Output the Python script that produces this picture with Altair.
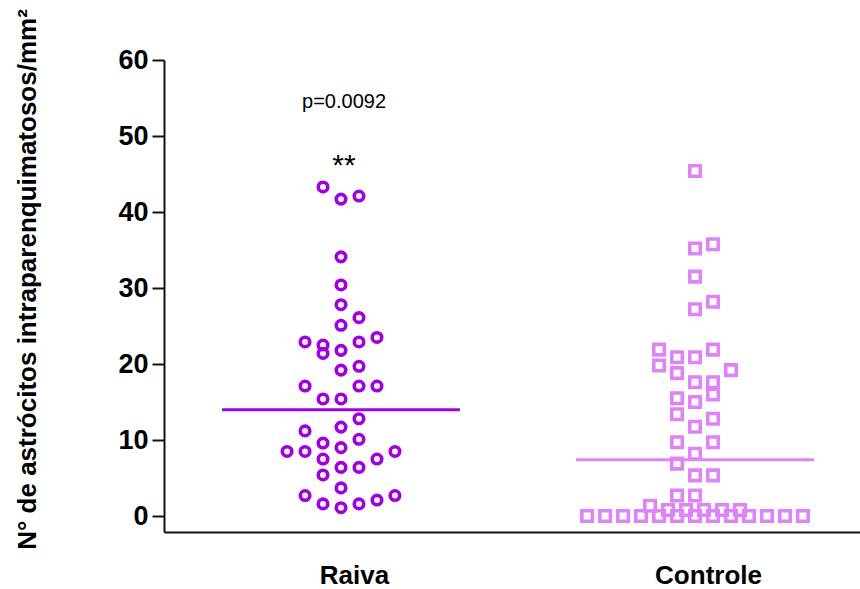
import altair as alt
import pandas as pd

groups = ["Raiva", "Controle"]

raiva_values = [43.3, 41.7, 42.1, 34.1, 30.4, 27.8, 26.1, 25.1, 22.9, 22.5,
                21.4, 21.8, 22.9, 23.5, 19.2, 19.7, 17.1, 17.1, 17.1, 15.4,
                15.4, 12.8, 11.2, 11.7, 9.6, 10.1, 8.5, 8.5, 9.0, 8.5,
                7.5, 7.5, 6.4, 6.4, 5.4, 3.7, 2.7, 2.7, 1.6, 1.1,
                1.6, 2.1]
raiva_cols = [-1, 0, 1, 0, 0, 0, 1, 0, -2, -1,
              -1, 0, 1, 2, 0, 1, -2, 1, 2, -1,
              0, 1, -2, 0, -1, 1, -3, -2, 0, 3,
              -1, 2, 0, 1, -1, 0, -2, 3, -1, 0,
              1, 2]

controle_values = [45.4, 35.2, 35.75, 31.5, 27.2, 28.2, 21.9, 20.9, 20.9, 21.9,
                   19.8, 19.2, 18.8, 17.6, 17.6, 16.0, 15.5, 15.0, 13.4, 12.8,
                   11.75, 9.7, 9.7, 8.2, 6.9, 5.35, 5.35, 2.7, 2.7, 1.36,
                   0.8, 0.8, 0.8, 0.8, 0.8,
                   0, 0, 0, 0, 0, 0, 0, 0, 0, 0, 0, 0, 0]
controle_cols = [0, 0, 1, 0, 0, 1, -2, -1, 0, 1,
                 -2, 2, -1, 0, 1, 1, -1, 0, -1, 1,
                 0, -1, 1, 0, -1, 0, 1, -1, 0, -2.5,
                 -1.5, -0.5, 0.5, 1.5, 2.5,
                 -6, -5, -4, -3, -2, -1, 0, 1, 2, 3, 4, 5, 6]

line_values = [14.0, 7.4]
y_ticks = [0, 10, 20, 30, 40, 50, 60]
annot_texts = ["p=0.0092", "**"]
annot_y = [54.5, 46.0]
annot_sizes = [20, 30]

colors = ["#A100DE", "#DE84F6"]
FONT = "Liberation Sans"

pts = pd.DataFrame({
    "grupo": ["Raiva"] * len(raiva_values) + ["Controle"] * len(controle_values),
    "gi": [1] * len(raiva_values) + [2] * len(controle_values),
    "col": raiva_cols + controle_cols,
    "valor": raiva_values + controle_values,
})
lines = pd.DataFrame({"grupo": groups, "gi": [1, 2], "valor": line_values})
annot = pd.DataFrame({"gi": [1, 1], "valor": annot_y, "txt": annot_texts, "fs": annot_sizes})

xscale = alt.Scale(domain=[0.5, 2.466], nice=False, zero=False)
yscale = alt.Scale(domain=[-2.1, 60], nice=False, zero=False)
cscale = alt.Scale(domain=groups, range=colors)

x_axis = alt.Axis(values=[1, 2], labelExpr="datum.value == 1 ? 'Raiva' : 'Controle'",
                  ticks=False, grid=False, domainColor="#111111", domainWidth=2,
                  labelFont=FONT, labelFontSize=26, labelFontWeight="bold",
                  labelColor="black", labelPadding=30, labelOffset=13, title=None)
y_axis = alt.Axis(values=y_ticks, grid=False, tickSize=12, tickWidth=2, tickColor="#111111",
                  domainColor="#111111", domainWidth=2,
                  labelFont=FONT, labelFontSize=27, labelFontWeight="bold", labelColor="black",
                  labelPadding=4,
                  title="N° de astrócitos intraparenquimatosos/mm²",
                  titleFont=FONT, titleFontSize=26, titleFontWeight="bold", titleColor="black",
                  titleAngle=270, titleX=-137, titleY=219, titleAlign="center",
                  titleBaseline="middle")

rule = alt.Chart(lines).transform_calculate(
    x1="datum.gi - 0.336", x2="datum.gi + 0.336"
).mark_rule(strokeWidth=3).encode(
    x=alt.X("x1:Q", scale=xscale, axis=x_axis),
    x2="x2:Q",
    y=alt.Y("valor:Q", scale=yscale, axis=y_axis),
    color=alt.Color("grupo:N", scale=cscale, legend=None),
)

points = alt.Chart(pts).transform_calculate(
    xp="datum.gi + datum.col * 0.0508"
).mark_point(filled=False, strokeWidth=3.6, opacity=1).encode(
    x=alt.X("xp:Q", scale=xscale),
    y=alt.Y("valor:Q", scale=yscale),
    color=alt.Color("grupo:N", scale=cscale, legend=None),
    shape=alt.Shape("grupo:N", scale=alt.Scale(domain=groups, range=["circle", "square"]), legend=None),
    size=alt.Size("grupo:N", scale=alt.Scale(domain=groups, range=[90, 110]), legend=None),
)

text = alt.Chart(annot).mark_text(font=FONT, color="black", baseline="middle", align="center", dx=3).encode(
    x=alt.X("gi:Q", scale=xscale),
    y=alt.Y("valor:Q", scale=yscale),
    text="txt:N",
    size=alt.Size("fs:Q", scale=None, legend=None),
)

chart = alt.layer(rule, points, text).properties(
    width=696, height=472,
    autosize=alt.AutoSizeParams(type="none"),
    padding={"left": 164, "top": 60, "right": 0, "bottom": 57},
    background="white",
).configure_view(stroke=None)

chart.save("out.html", embed_options={"renderer": "svg", "actions": False})
